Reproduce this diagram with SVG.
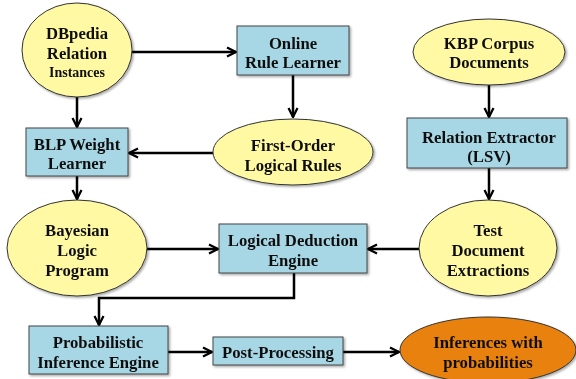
<svg xmlns="http://www.w3.org/2000/svg" width="576" height="379" viewBox="0 0 576 379">
<style>
.ell{fill:#FFF9A3;stroke:#333;stroke-width:1}
.box{fill:#A7D6E5;stroke:#444;stroke-width:1}
.org{fill:#E8810C;stroke:#333;stroke-width:1}
text{font-family:'Liberation Serif','Times New Roman',serif;font-weight:bold;font-size:16.7px;fill:#111;text-anchor:middle;dominant-baseline:central}
.sm{font-size:14px}
.c{fill:none;stroke:#000;stroke-width:2.5;marker-end:url(#a)}
</style>
<defs>
<marker id="a" viewBox="0 0 10 10" refX="9" refY="5" markerWidth="4.5" markerHeight="4.5" orient="auto" markerUnits="strokeWidth">
<path d="M1,1 L9,5 L1,9" fill="none" stroke="#000" stroke-width="2"/>
</marker>
<filter id="s" x="-10%" y="-10%" width="130%" height="130%"><feDropShadow dx="1.5" dy="1.5" stdDeviation="1" flood-color="#000" flood-opacity="0.35"/></filter>
</defs>
<g id="connectors">
<path class="c" d="M132,52 H236"/>
<path class="c" d="M293,75 V117"/>
<path class="c" d="M213,153 H129"/>
<path class="c" d="M77,97 V127"/>
<path class="c" d="M77,176 V199"/>
<path class="c" d="M147,249 H218"/>
<path class="c" d="M419,249 H368"/>
<path class="c" d="M489,85 V117"/>
<path class="c" d="M489,168 V199"/>
<path class="c" d="M294,273 V298 H99 V325"/>
<path class="c" d="M168,352 H212"/>
<path class="c" d="M343,352 H399"/>
</g>
<g font-family="Liberation Serif, Times New Roman, serif">
<g id="dbpedia" filter="url(#s)"><ellipse class="ell" cx="77" cy="50" rx="55" ry="47"/><text x="77" y="33">DBpedia</text><text x="77" y="53">Relation</text><text class="sm" x="77" y="72">Instances</text></g>
<g id="online" filter="url(#s)"><rect class="box" x="237" y="26" width="112" height="49"/><text x="293" y="43">Online</text><text x="293" y="62">Rule Learner</text></g>
<g id="firstorder" filter="url(#s)"><ellipse class="ell" cx="293" cy="152" rx="80" ry="33"/><text x="293" y="145">First-Order</text><text x="293" y="165">Logical Rules</text></g>
<g id="blp" filter="url(#s)"><rect class="box" x="26" y="128" width="102" height="48"/><text x="77" y="144">BLP Weight</text><text x="77" y="163">Learner</text></g>
<g id="bayesian" filter="url(#s)"><ellipse class="ell" cx="77" cy="248" rx="70" ry="48"/><text x="77" y="230">Bayesian</text><text x="77" y="250">Logic</text><text x="77" y="270">Program</text></g>
<g id="logical" filter="url(#s)"><rect class="box" x="219" y="224" width="148" height="49"/><text x="293" y="240">Logical Deduction</text><text x="293" y="260">Engine</text></g>
<g id="kbp" filter="url(#s)"><ellipse class="ell" cx="489" cy="52" rx="76" ry="33"/><text x="489" y="43">KBP Corpus</text><text x="489" y="62">Documents</text></g>
<g id="relext" filter="url(#s)"><rect class="box" x="407" y="118" width="160" height="50"/><text x="489" y="137">Relation Extractor</text><text x="489" y="156">(LSV)</text></g>
<g id="testdoc" filter="url(#s)"><ellipse class="ell" cx="488" cy="248" rx="69" ry="48"/><text x="488" y="230">Test</text><text x="488" y="250">Document</text><text x="488" y="270">Extractions</text></g>
<g id="prob" filter="url(#s)"><rect class="box" x="29" y="326" width="139" height="48"/><text x="98" y="342">Probabilistic</text><text x="98" y="362">Inference Engine</text></g>
<g id="post" filter="url(#s)"><rect class="box" x="213" y="337" width="130" height="28"/><text x="278" y="352">Post-Processing</text></g>
<g id="inferences" filter="url(#s)"><ellipse class="org" cx="488" cy="350" rx="88" ry="33"/><text x="488" y="342">Inferences with</text><text x="488" y="362">probabilities</text></g>
</g>
</svg>
